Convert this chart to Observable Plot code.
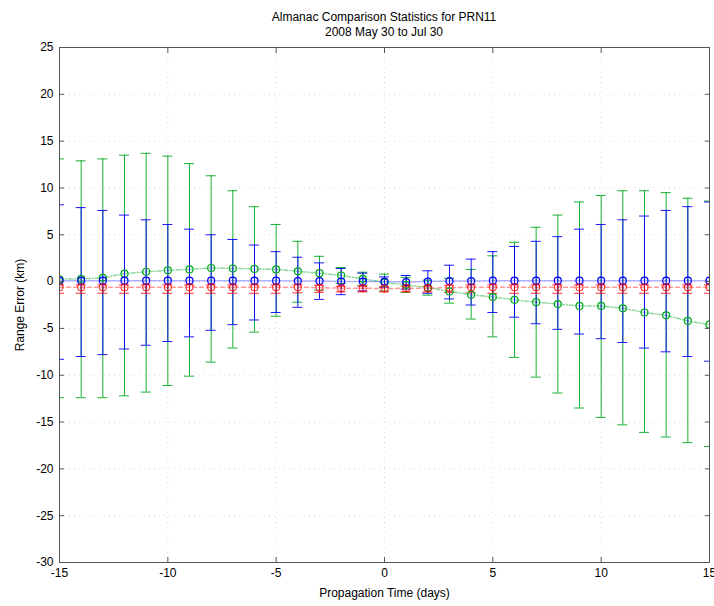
<!DOCTYPE html>
<html><head><meta charset="utf-8">
<script src="https://cdn.jsdelivr.net/npm/d3@7"></script>
<script src="https://cdn.jsdelivr.net/npm/@observablehq/plot@0.6"></script>
<style>
body{margin:0;background:#fff;font-family:"Liberation Sans",Arial,sans-serif;}
#title{width:714px;height:38px;position:relative;}
.t{position:absolute;left:59px;width:650px;text-align:center;font-size:12px;line-height:13px;color:#000;}
</style></head><body>
<div id="title"><div class="t" style="top:11px">Almanac Comparison Statistics for PRN11</div><div class="t" style="top:26px">2008 May 30 to Jul 30</div></div>
<div id="chart"></div>
<script>
const days      = [-15,-14,-13,-12,-11,-10,-9,-8,-7,-6,-5,-4,-3,-2,-1,0,1,2,3,4,5,6,7,8,9,10,11,12,13,14,15];
const greenMean = [0.25,0.3,0.4,0.85,1.05,1.2,1.3,1.45,1.4,1.35,1.3,1.1,0.9,0.65,0.3,-0.1,-0.35,-0.65,-1.05,-1.4,-1.65,-1.95,-2.2,-2.4,-2.6,-2.6,-2.85,-3.3,-3.6,-4.2,-4.6];
const greenHigh = [13.1,12.9,13.1,13.5,13.7,13.4,12.6,11.3,9.7,8.0,6.1,4.3,2.7,1.5,1.0,0.8,0.45,0.15,0.35,1.3,2.75,4.2,5.8,7.1,8.5,9.2,9.7,9.7,9.5,8.9,8.6];
const greenLow  = [-12.4,-12.4,-12.4,-12.2,-11.8,-11.1,-10.1,-8.6,-7.1,-5.4,-3.7,-2.2,-0.9,-0.2,-0.4,-1.0,-1.15,-1.45,-2.3,-4.0,-5.9,-8.1,-10.2,-11.9,-13.5,-14.5,-15.3,-16.1,-16.6,-17.2,-17.6];
const blueMean  = [0.1,0.1,0.1,0.1,0.1,0.1,0.1,0.1,0.1,0.1,0.1,0.05,0.05,0,0,0,-0.05,0,0.05,0.05,0.1,0.1,0.1,0.1,0.1,0.1,0.1,0.1,0.1,0.1,0.1];
const blueHigh  = [8.2,7.9,7.6,7.1,6.6,6.1,5.6,5.0,4.5,3.9,3.2,2.6,2.0,1.4,0.9,0.5,0.65,1.15,1.75,2.4,3.2,3.75,4.3,4.8,5.6,6.1,6.6,7.0,7.6,8.0,8.5];
const blueLow   = [-8.3,-8.0,-7.8,-7.2,-6.8,-6.4,-5.9,-5.2,-4.6,-4.1,-3.3,-2.75,-1.9,-1.4,-1.0,-0.6,-0.8,-1.25,-1.85,-2.5,-3.3,-3.8,-4.5,-5.1,-5.6,-6.1,-6.5,-7.1,-7.5,-8.0,-8.5];
const redMean   = [-0.6,-0.6,-0.6,-0.6,-0.6,-0.6,-0.6,-0.6,-0.6,-0.6,-0.6,-0.6,-0.65,-0.7,-0.7,-0.75,-0.7,-0.7,-0.65,-0.6,-0.6,-0.6,-0.6,-0.6,-0.6,-0.6,-0.6,-0.6,-0.6,-0.6,-0.6];
const redHigh   = [-0.35,-0.35,-0.35,-0.35,-0.35,-0.35,-0.35,-0.35,-0.35,-0.35,-0.35,-0.35,-0.4,-0.5,-0.5,-0.55,-0.5,-0.5,-0.4,-0.35,-0.35,-0.35,-0.35,-0.35,-0.35,-0.35,-0.35,-0.35,-0.35,-0.35,-0.35];
const redLow    = [-1.25,-1.25,-1.25,-1.25,-1.25,-1.25,-1.25,-1.25,-1.25,-1.25,-1.25,-1.2,-1.15,-1.1,-1.1,-1.1,-1.1,-1.1,-1.15,-1.2,-1.25,-1.25,-1.25,-1.25,-1.25,-1.25,-1.25,-1.25,-1.25,-1.25,-1.25];
const xTicks = [-15,-10,-5,0,5,10,15];
const yTicks = [-30,-25,-20,-15,-10,-5,0,5,10,15,20,25];

const rows = days.map((d,i)=>({day:d,
  gm:greenMean[i], gh:greenHigh[i], gl:greenLow[i],
  bm:blueMean[i], bh:blueHigh[i], bl:blueLow[i],
  rm:redMean[i], rh:redHigh[i], rl:redLow[i]}));

const GREEN="#00a820", BLUE="#0000ff", RED="#ff0000";
const cap = 0.23;
function errbar(m,h,l,color,op){
  return [
    Plot.ruleX(rows,{x:"day",y1:l,y2:h,stroke:color,strokeWidth:1,strokeOpacity:op,clip:true}),
    Plot.ruleY(rows,{y:h,x1:d=>d.day-cap,x2:d=>d.day+cap,stroke:color,strokeWidth:1,strokeOpacity:op,clip:true}),
    Plot.ruleY(rows,{y:l,x1:d=>d.day-cap,x2:d=>d.day+cap,stroke:color,strokeWidth:1,strokeOpacity:op,clip:true})
  ];
}
const fmt = d=>String(d);
const chart = Plot.plot({
  width:714, height:568,
  marginLeft:59, marginRight:5, marginTop:9, marginBottom:44,
  style:{fontFamily:"'Liberation Sans',Arial,sans-serif", fontSize:"12px", background:"#fff", overflow:"hidden"},
  x:{domain:[-15,15]},
  y:{domain:[-30,25]},
  marks:[
    Plot.gridX(xTicks,{stroke:"#999",strokeOpacity:0.35,strokeDasharray:"1,4"}),
    Plot.gridY(yTicks,{stroke:"#999",strokeOpacity:0.35,strokeDasharray:"1,4"}),
    Plot.line(rows,{x:"day",y:"gm",stroke:GREEN,strokeOpacity:0.45,strokeDasharray:"4,2,1,2"}),
    Plot.line(rows,{x:"day",y:"bm",stroke:BLUE,strokeOpacity:0.3}),
    Plot.line(rows,{x:"day",y:"rm",stroke:RED,strokeOpacity:0.4,strokeDasharray:"4,3"}),
    ...errbar("gm","gh","gl",GREEN,0.9),
    ...errbar("bm","bh","bl",BLUE,0.9),
    ...errbar("rm","rh","rl",RED,0.8),
    Plot.dot(rows,{x:"day",y:"gm",r:3.5,stroke:GREEN,fill:"none",strokeWidth:1.2,clip:true}),
    Plot.dot(rows,{x:"day",y:"bm",r:3.5,stroke:BLUE,fill:"none",strokeWidth:1.2,clip:true}),
    Plot.dot(rows,{x:"day",y:"rm",r:3.5,stroke:RED,fill:"none",strokeWidth:1.1,strokeOpacity:0.8,clip:true}),
    Plot.frame({stroke:"#555"}),
    Plot.axisY(yTicks,{anchor:"left",tickSize:-5,tickPadding:11,tickFormat:fmt,stroke:"#555",fontSize:12,
      label:"Range Error (km)",labelAnchor:"center",labelArrow:"none",labelOffset:44}),
    Plot.axisY(yTicks,{anchor:"right",tickSize:-5,text:null,label:null,stroke:"#555"}),
    Plot.axisX(xTicks,{anchor:"bottom",tickSize:-5,tickPadding:11,tickFormat:fmt,stroke:"#555",fontSize:12,
      label:"Propagation Time (days)",labelAnchor:"center",labelArrow:"none",labelOffset:34}),
    Plot.axisX(xTicks,{anchor:"top",tickSize:-5,text:null,label:null,stroke:"#555"})
  ]
});
document.getElementById("chart").appendChild(chart);
</script>
</body></html>
